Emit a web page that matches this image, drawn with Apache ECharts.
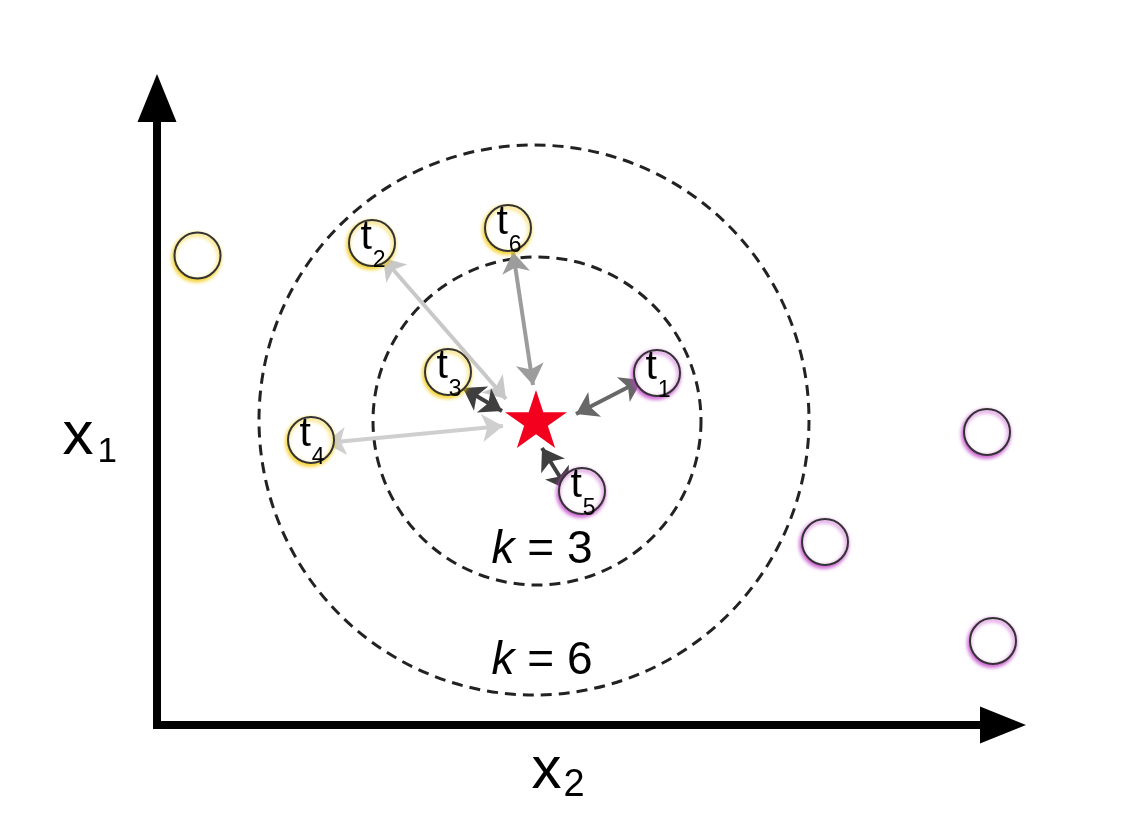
<!DOCTYPE html>
<html>
<head>
<meta charset="utf-8">
<script src="https://cdn.jsdelivr.net/npm/echarts@6/dist/echarts.min.js"></script>
<style>html,body{margin:0;padding:0;background:#fff}#c{width:1140px;height:828px}</style>
</head>
<body>
<div id="c"></div>
<script>
// ---- data (diagram coordinates, origin at the axis corner) ----
var trainLabels = ['t1', 't2', 't3', 't4', 't5', 't6'];
var trainX = [500, 215, 291, 154, 425, 351];
var trainY = [352, 482, 353, 285, 234, 497];
var trainClass = ['B', 'A', 'A', 'A', 'B', 'A'];

var otherX = [40.5, 830, 668, 836];
var otherY = [469.5, 293, 183, 84];
var otherClass = ['A', 'B', 'B', 'B'];

var queryPoint = [379, 306];
var ringCenters = [[380, 304], [377, 305]];
var ringNames = ['k = 3', 'k = 6'];
var ringLabelPos = [[385, 175], [385, 64]];

// arrow segments: [from, to]
var arrowTargets = ['t2', 't6', 't3', 't1', 't4', 't5'];
var arrowFrom = [[226, 467], [356, 473], [306, 337], [485, 345], [168, 282], [385, 277]];
var arrowTo = [[349, 326], [376, 340], [345, 314], [419, 311], [346, 299], [411, 235]];

// styles kept apart from the data
var arrowColors = ['#c8c8c8', '#9c9c9c', '#3f3f3f', '#686868', '#cfcfcf', '#3f3f3f'];
var glow = { A: '#f2c800', B: '#c040c8' };
var ringSizes = [328, 550];

var chart = echarts.init(document.getElementById('c'));

function circleItem(x, y, cls, label) {
  var item = {
    value: [x, y],
    itemStyle: {
      color: '#fff', borderColor: '#333', borderWidth: 2, opacity: 1,
      shadowColor: glow[cls], shadowBlur: 4, shadowOffsetX: -1, shadowOffsetY: 2
    }
  };
  if (label) {
    var n = label.slice(1);
    item.label = {
      show: true, position: 'inside', formatter: '{t|t}{s|' + n + '}', offset: [1, -5]
    };
  }
  return item;
}

var circleData = [];
for (var i = 0; i < otherX.length; i++) circleData.push(circleItem(otherX[i], otherY[i], otherClass[i]));
for (var j = 0; j < trainX.length; j++) circleData.push(circleItem(trainX[j], trainY[j], trainClass[j], trainLabels[j]));

var lineData = arrowFrom.map(function (f, i) {
  return { name: arrowTargets[i], coords: [f, arrowTo[i]], lineStyle: { color: arrowColors[i] } };
});

var ringData = ringCenters.map(function (c, i) {
  return { value: c, symbolSize: ringSizes[i] };
});

var starPath = 'path://M0,-1L0.2245,-0.309L0.951,-0.309L0.363,0.118L0.588,0.809L0,0.382L-0.588,0.809L-0.363,0.118L-0.951,-0.309L-0.2245,-0.309Z';

var option = {
  backgroundColor: '#fff',
  animation: false,
  grid: { left: 157, right: 137, top: 98, bottom: 103 },
  xAxis: {
    type: 'value', min: 0, max: 846,
    axisLabel: { show: false }, axisTick: { show: false }, splitLine: { show: false },
    axisLine: { show: true, onZero: false, symbol: ['none', 'triangle'], symbolSize: [37, 46],
      lineStyle: { color: '#000', width: 8, cap: 'square' } },
    name: '{x|x}{s|2}', nameLocation: 'middle', nameGap: 24,
    nameTextStyle: {
      padding: [0, 44, 0, 0],
      rich: {
        x: { fontFamily: 'Liberation Sans', fontSize: 60, color: '#000', lineHeight: 44 },
        s: { fontFamily: 'Liberation Sans', fontSize: 38, color: '#000', lineHeight: 38, padding: [30, 0, 0, 2] }
      }
    }
  },
  yAxis: {
    type: 'value', min: 0, max: 627,
    axisLabel: { show: false }, axisTick: { show: false }, splitLine: { show: false },
    axisLine: { show: true, onZero: false, symbol: ['none', 'triangle'], symbolSize: [39, 48],
      lineStyle: { color: '#000', width: 8, cap: 'square' } },
    name: '{x|x}{s|1}', nameLocation: 'middle', nameGap: 40, nameRotate: 0,
    nameTextStyle: {
      padding: [50, 0, 0, 0],
      rich: {
        x: { fontFamily: 'Liberation Sans', fontSize: 62, color: '#000', lineHeight: 44 },
        s: { fontFamily: 'Liberation Sans', fontSize: 35, color: '#000', lineHeight: 35, padding: [32, 0, 0, 4] }
      }
    }
  },
  series: [
    {
      type: 'scatter', name: 'rings', symbol: 'circle', data: ringData, clip: false, silent: true, z: 1,
      itemStyle: { color: 'rgba(0,0,0,0)', borderColor: '#222', borderWidth: 3, borderType: [11, 7], opacity: 1 },
      label: { show: false }
    },
    {
      type: 'scatter', name: 'ringLabels', symbolSize: 0, z: 2, clip: false,
      itemStyle: { opacity: 1 },
      data: ringLabelPos.map(function (p, i) { return { value: p, name: ringNames[i] }; }),
      label: {
        show: true, position: 'inside',
        formatter: function (p) { return '{i|k}{n|' + p.name.slice(1) + '}'; },
        rich: {
          i: { fontFamily: 'Liberation Sans', fontStyle: 'italic', fontSize: 46, color: '#000' },
          n: { fontFamily: 'Liberation Sans', fontSize: 46, color: '#000' }
        }
      }
    },
    {
      type: 'lines', coordinateSystem: 'cartesian2d', z: 3, data: lineData,
      symbol: ['arrow', 'arrow'], symbolSize: 21,
      lineStyle: { width: 4, opacity: 1 }
    },
    {
      type: 'scatter', name: 'points', symbol: 'circle', symbolSize: 46, data: circleData, clip: false, z: 4,
      label: {
        rich: {
          t: { fontFamily: 'Liberation Sans', fontSize: 41, color: '#000', lineHeight: 41, verticalAlign: 'top' },
          s: { fontFamily: 'Liberation Sans', fontSize: 23, color: '#000', lineHeight: 23, verticalAlign: 'top', padding: [32, 0, 0, 1] }
        }
      }
    },
    {
      type: 'scatter', name: 'query', symbol: starPath, symbolSize: [62, 58], symbolKeepAspect: false,
      data: [queryPoint], clip: false, z: 5,
      itemStyle: { color: '#f2001e', opacity: 1 }
    }
  ]
};
chart.setOption(option);
</script>
</body>
</html>
